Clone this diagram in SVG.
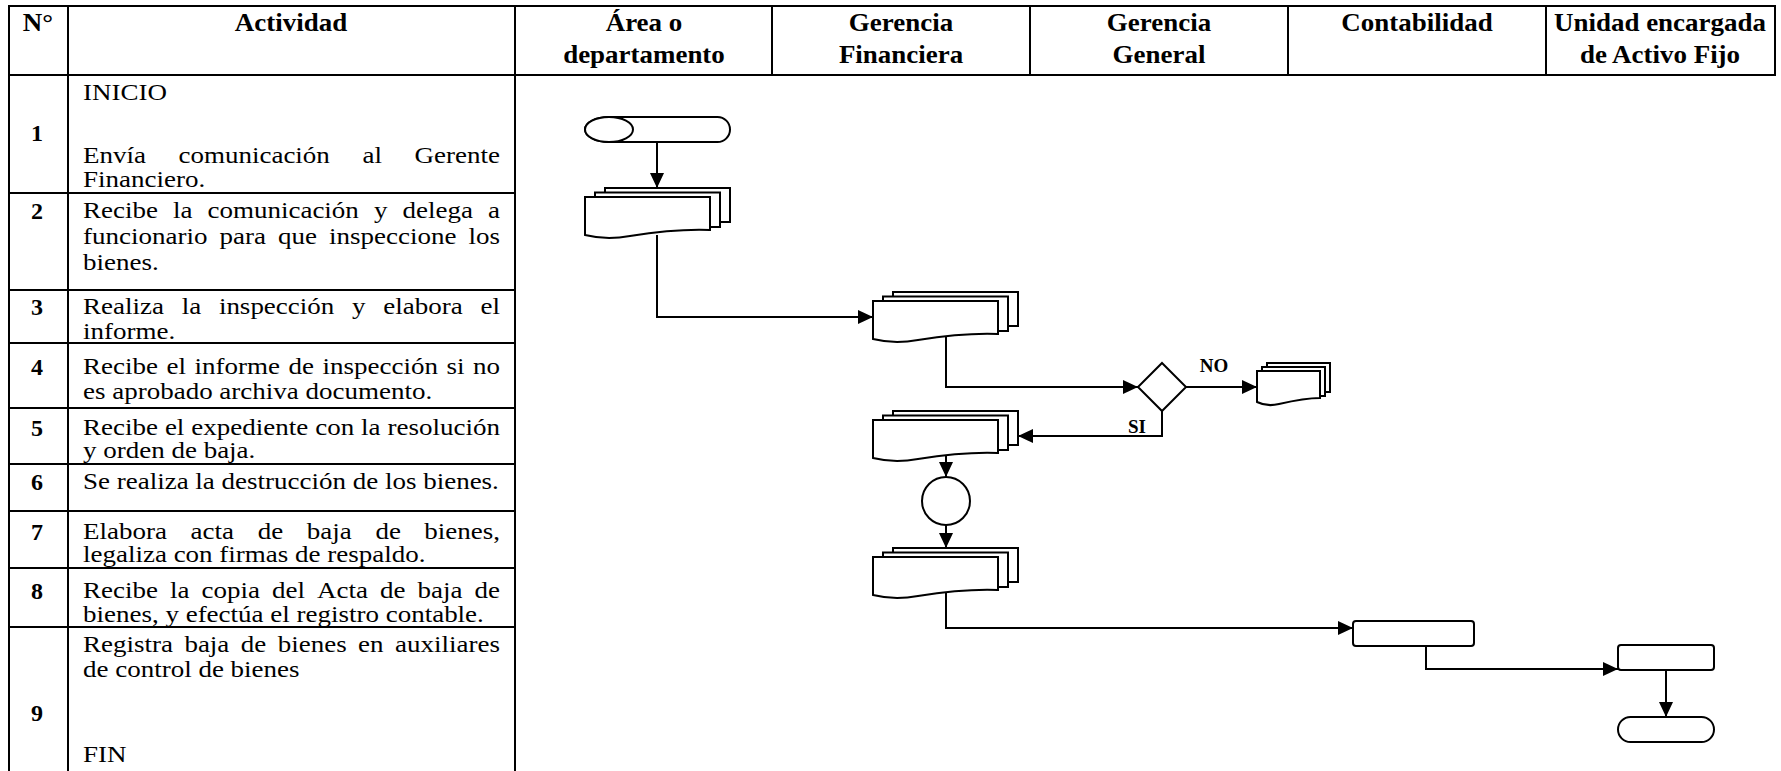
<svg xmlns="http://www.w3.org/2000/svg" width="1781" height="771" viewBox="0 0 1781 771">
<defs>
<style>
.t{font-family:"Liberation Serif","Times New Roman",serif;font-size:23.5px;fill:#000}
.e{text-anchor:end}
.h{font-family:"Liberation Serif","Times New Roman",serif;font-size:24.5px;font-weight:bold;text-anchor:middle;fill:#000}
.n{font-family:"Liberation Serif","Times New Roman",serif;font-size:24px;font-weight:bold;text-anchor:middle;fill:#000}
.grid line{stroke:#000;stroke-width:2}
.shape{fill:#fff;stroke:#000;stroke-width:2}
.conn path{fill:none;stroke:#000;stroke-width:2;marker-end:url(#arr)}
.lbl{font-family:"Liberation Serif","Times New Roman",serif;font-weight:bold;font-size:19px;text-anchor:middle;fill:#000}
</style>
<marker id="arr" markerUnits="userSpaceOnUse" markerWidth="16" markerHeight="14" refX="15" refY="7" orient="auto">
<path d="M0,0 L15,7 L0,14 Z" fill="#000"/>
</marker>
<g id="stack">
<path d="M20,-9 H145 V25 H20 Z" fill="#fff" stroke="#000" stroke-width="2"/>
<path d="M10,-4.5 H135 V30 H10 Z" fill="#fff" stroke="#000" stroke-width="2"/>
<path d="M0,0 H125 V33 C100,32 70,35 45,39 C28,42 12,41 0,38 Z" fill="#fff" stroke="#000" stroke-width="2"/>
</g>
<g id="stackS">
<path d="M10,-8 H73 V21 H10 Z" fill="#fff" stroke="#000" stroke-width="2"/>
<path d="M5,-4 H68 V25 H5 Z" fill="#fff" stroke="#000" stroke-width="2"/>
<path d="M0,0 H63 V27 C50,27 35,30 22,33 C14,35 6,34 0,31 Z" fill="#fff" stroke="#000" stroke-width="2"/>
</g>
</defs>
<rect width="1781" height="771" fill="#fff"/>

<g id="table" class="grid">
<line x1="8" y1="6" x2="1776" y2="6"/>
<line x1="8" y1="75" x2="1776" y2="75"/>
<line x1="9" y1="5" x2="9" y2="771"/>
<line x1="68" y1="5" x2="68" y2="771"/>
<line x1="515" y1="5" x2="515" y2="771"/>
<line x1="772" y1="5" x2="772" y2="76"/>
<line x1="1030" y1="5" x2="1030" y2="76"/>
<line x1="1288" y1="5" x2="1288" y2="76"/>
<line x1="1546" y1="5" x2="1546" y2="76"/>
<line x1="1775" y1="5" x2="1775" y2="76"/>
<line x1="9" y1="193" x2="515" y2="193"/>
<line x1="9" y1="290" x2="515" y2="290"/>
<line x1="9" y1="343" x2="515" y2="343"/>
<line x1="9" y1="408" x2="515" y2="408"/>
<line x1="9" y1="464" x2="515" y2="464"/>
<line x1="9" y1="511" x2="515" y2="511"/>
<line x1="9" y1="568" x2="515" y2="568"/>
<line x1="9" y1="627" x2="515" y2="627"/>
</g>

<g id="header" transform="scale(1.1 1)">
<text class="h" x="34.55" y="31">N°</text>
<text class="h" x="264.55" y="31">Actividad</text>
<text class="h" x="585.45" y="31">Área o</text>
<text class="h" x="585.45" y="63">departamento</text>
<text class="h" x="819.09" y="31">Gerencia</text>
<text class="h" x="819.09" y="63">Financiera</text>
<text class="h" x="1053.64" y="31">Gerencia</text>
<text class="h" x="1053.64" y="63">General</text>
<text class="h" x="1288.18" y="31">Contabilidad</text>
<text class="h" x="1509.09" y="31">Unidad encargada</text>
<text class="h" x="1509.09" y="63">de Activo Fijo</text>
</g>

<g id="numbers">
<text class="n" x="37" y="141">1</text>
<text class="n" x="37" y="219">2</text>
<text class="n" x="37" y="315">3</text>
<text class="n" x="37" y="375">4</text>
<text class="n" x="37" y="436">5</text>
<text class="n" x="37" y="490">6</text>
<text class="n" x="37" y="540">7</text>
<text class="n" x="37" y="599">8</text>
<text class="n" x="37" y="721">9</text>
</g>

<g id="activities" class="t" transform="scale(1.14894 1)">
<text x="72.24" y="100">INICIO</text>
<text y="163"><tspan x="72.24">Envía</tspan><tspan x="155.36">comunicación</tspan><tspan x="315.51">al</tspan><tspan x="435.19" class="e">Gerente</tspan></text>
<text x="72.24" y="187">Financiero.</text>

<text y="218"><tspan x="72.24">Recibe</tspan><tspan x="150.57">la</tspan><tspan x="180.6">comunicación</tspan><tspan x="325.52">y</tspan><tspan x="350.32">delega</tspan><tspan x="435.19" class="e">a</tspan></text>
<text y="244"><tspan x="72.24">funcionario</tspan><tspan x="191.05">para</tspan><tspan x="241.96">que</tspan><tspan x="286.35">inspeccione</tspan><tspan x="435.19" class="e">los</tspan></text>
<text x="72.24" y="270">bienes.</text>

<text y="314"><tspan x="72.24">Realiza</tspan><tspan x="158.15">la</tspan><tspan x="190.52">inspección</tspan><tspan x="306.46">y</tspan><tspan x="333.61">elabora</tspan><tspan x="435.19" class="e">el</tspan></text>
<text x="72.24" y="339">informe.</text>

<text y="374"><tspan x="72.24">Recibe</tspan><tspan x="144.92">el</tspan><tspan x="169.29">informe</tspan><tspan x="251.1">de</tspan><tspan x="280.69">inspección</tspan><tspan x="388.62">si</tspan><tspan x="435.19" class="e">no</tspan></text>
<text x="72.24" y="399">es aprobado archiva documento.</text>

<text y="435"><tspan x="72.24">Recibe</tspan><tspan x="143.52">el</tspan><tspan x="166.5">expediente</tspan><tspan x="274.34">con</tspan><tspan x="314.29">la</tspan><tspan x="435.19" class="e">resolución</tspan></text>
<text x="72.24" y="458">y orden de baja.</text>

<text x="72.24" y="489">Se realiza la destrucción de los bienes.</text>

<text y="539"><tspan x="72.24">Elabora</tspan><tspan x="165.89">acta</tspan><tspan x="224.29">de</tspan><tspan x="267.03">baja</tspan><tspan x="326.74">de</tspan><tspan x="435.19" class="e">bienes,</tspan></text>
<text x="72.24" y="562">legaliza con firmas de respaldo.</text>

<text y="598"><tspan x="72.24">Recibe</tspan><tspan x="147.96">la</tspan><tspan x="175.38">copia</tspan><tspan x="236.74">del</tspan><tspan x="275.91">Acta</tspan><tspan x="330.74">de</tspan><tspan x="363.38">baja</tspan><tspan x="435.19" class="e">de</tspan></text>
<text x="72.24" y="622">bienes, y efectúa el registro contable.</text>

<text y="652"><tspan x="72.24">Registra</tspan><tspan x="160.5">baja</tspan><tspan x="209.59">de</tspan><tspan x="241.7">bienes</tspan><tspan x="311.68">en</tspan><tspan x="435.19" class="e">auxiliares</tspan></text>
<text x="72.24" y="677">de control de bienes</text>
<text x="72.24" y="762">FIN</text>
</g>

<g id="connectors" class="conn">
<path d="M657,142 V188"/>
<path d="M657,235 V317 H873"/>
<path d="M946,337 V387 H1138"/>
<path d="M1186,387 H1257"/>
<path d="M1162,411 V436 H1018"/>
<path d="M946,456 V477"/>
<path d="M946,525 V548"/>
<path d="M946,593 V628 H1353"/>
<path d="M1426,646 V669 H1618"/>
<path d="M1666,670 V717"/>
</g>

<g id="labels">
<text class="lbl" x="1214" y="372">NO</text>
<text class="lbl" x="1137" y="433">SI</text>
</g>

<g id="n-start">
<path class="shape" d="M609,117 H717.5 A12.5,12.5 0 0 1 717.5,142 H609 A24,12.5 0 0 1 609,117 Z"/>
<ellipse class="shape" cx="609" cy="129.5" rx="24" ry="12.5"/>
</g>
<g id="n-doc1"><use href="#stack" x="585" y="197"/></g>
<g id="n-doc2"><use href="#stack" x="873" y="301"/></g>
<g id="n-decision"><polygon class="shape" points="1162,363 1186,387 1162,411 1138,387"/></g>
<g id="n-archive"><use href="#stackS" x="1257" y="371"/></g>
<g id="n-doc4"><use href="#stack" x="873" y="420"/></g>
<g id="n-circle"><circle class="shape" cx="946" cy="501" r="24"/></g>
<g id="n-doc5"><use href="#stack" x="873" y="557"/></g>
<g id="n-proc1"><rect class="shape" x="1353" y="621" width="121" height="25" rx="3"/></g>
<g id="n-proc2"><rect class="shape" x="1618" y="645" width="96" height="25" rx="3"/></g>
<g id="n-end"><rect class="shape" x="1618" y="717" width="96" height="25" rx="12.5"/></g>
</svg>
